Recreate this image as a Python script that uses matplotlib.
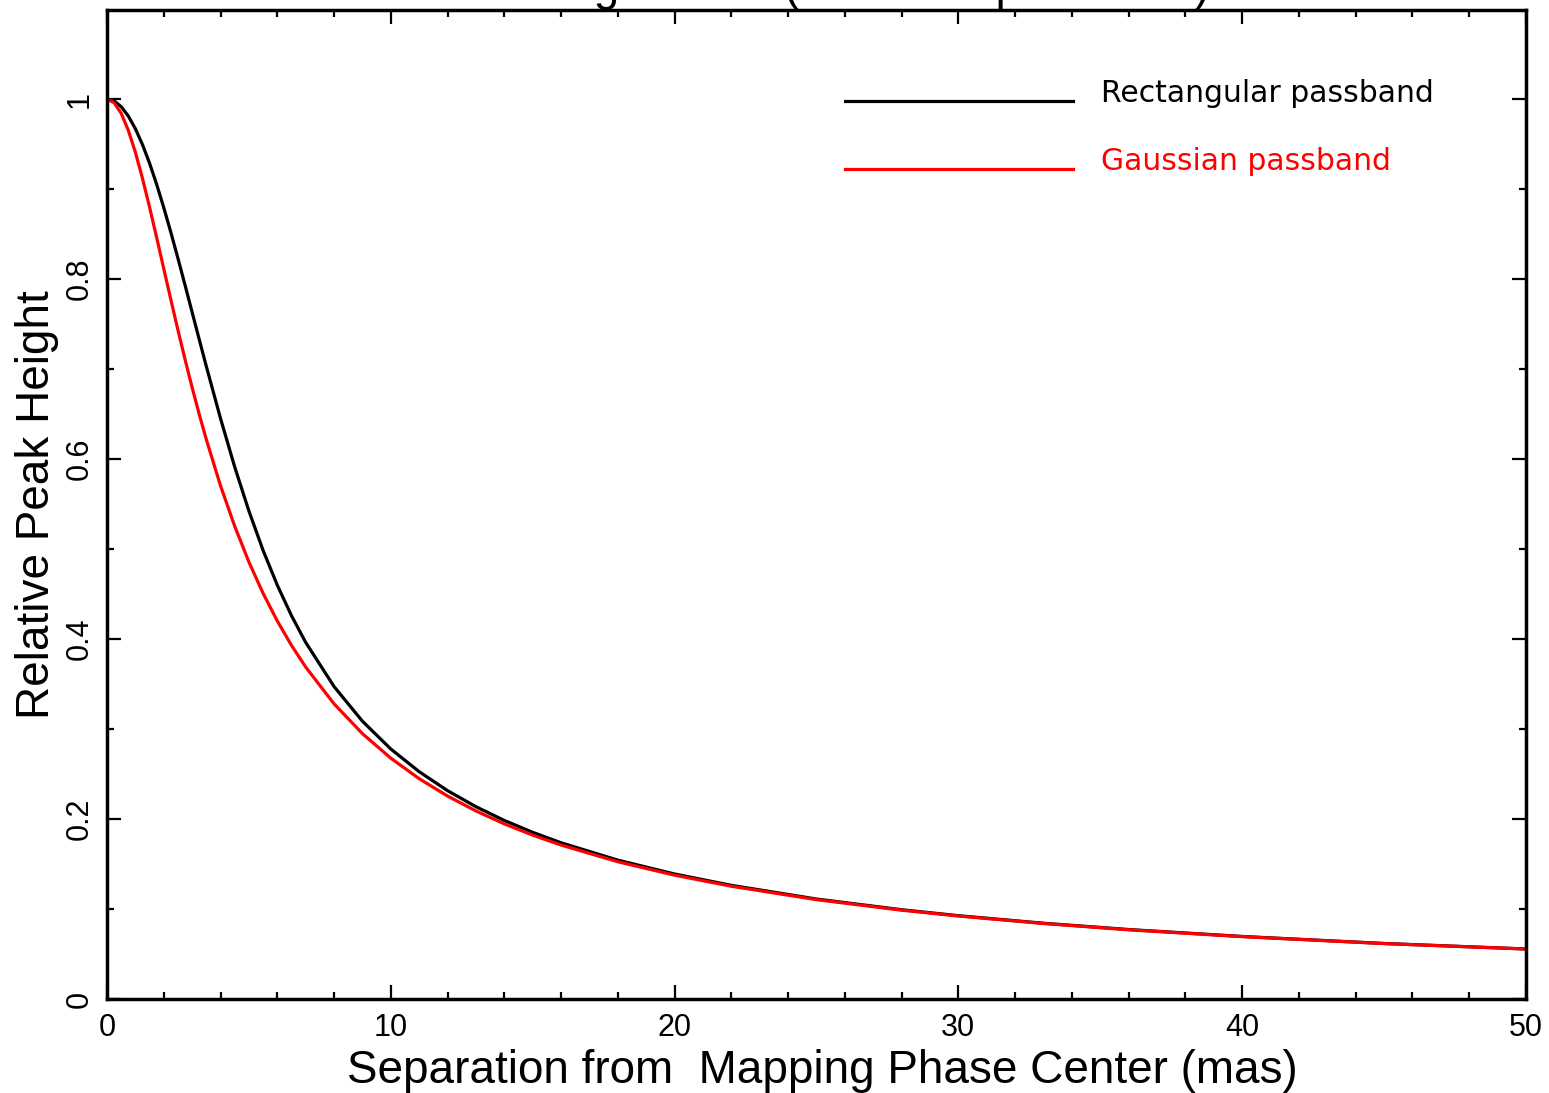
"""Relative peak height vs. separation from the mapping phase centre."""

import matplotlib

matplotlib.use("Agg")
import matplotlib.pyplot as plt
from matplotlib.legend_handler import HandlerLine2D
from matplotlib.lines import Line2D
from matplotlib.ticker import MultipleLocator

# separation from mapping phase centre (mas)
sep = [0, 0.25, 0.5, 0.75, 1, 1.25, 1.5, 1.75, 2, 2.25, 2.5, 2.75, 3, 3.25,
       3.5, 4, 4.5, 5, 5.5, 6, 6.5, 7, 8, 9, 10, 11, 12, 13, 14, 15, 16, 18,
       20, 22, 25, 28, 30, 33, 36, 40, 45, 50]

# relative peak height
rect_peak = [1.0, 0.9979, 0.9916, 0.9812, 0.9671, 0.9494, 0.9287, 0.9052,
             0.8794, 0.8519, 0.8230, 0.7933, 0.7631, 0.7329, 0.7030, 0.6451,
             0.5912, 0.5423, 0.4985, 0.4599, 0.4260, 0.3963, 0.3472, 0.3087,
             0.2778, 0.2526, 0.2315, 0.2137, 0.1984, 0.1852, 0.1736, 0.1543,
             0.1389, 0.1263, 0.1111, 0.0992, 0.0926, 0.0842, 0.0772, 0.0695,
             0.0617, 0.0556]
gauss_peak = [1.0, 0.9960, 0.9842, 0.9654, 0.9409, 0.9119, 0.8799, 0.8461,
              0.8115, 0.7771, 0.7433, 0.7107, 0.6794, 0.6497, 0.6217, 0.5704,
              0.5253, 0.4856, 0.4508, 0.4201, 0.3930, 0.3689, 0.3280, 0.2949,
              0.2676, 0.2448, 0.2255, 0.2090, 0.1946, 0.1821, 0.1711, 0.1525,
              0.1376, 0.1253, 0.1104, 0.0987, 0.0922, 0.0839, 0.0769, 0.0693,
              0.0616, 0.0555]

x_ticks = [0, 10, 20, 30, 40, 50]
y_ticks = [0, 0.2, 0.4, 0.6, 0.8, 1.0]
y_ticklabels = ["0", "0.2", "0.4", "0.6", "0.8", "1"]

# only the bottom of the title survives in the original, it sits off the top edge
title = "Smearing Effects (500 MHz passband)"


class LoweredLine(HandlerLine2D):
    """Legend key drawn a bit below the middle of its label."""

    def create_artists(self, legend, orig_handle, xdescent, ydescent,
                       width, height, fontsize, trans):
        artists = super().create_artists(legend, orig_handle, xdescent, ydescent,
                                         width, height, fontsize, trans)
        for a in artists:
            a.set_ydata([y - 0.3 * fontsize for y in a.get_ydata()])
        return artists


plt.rcParams["font.family"] = ["Liberation Sans", "DejaVu Sans"]

fig = plt.figure(figsize=(15.49, 10.93), dpi=100)
ax = fig.add_axes([107 / 1549, 94 / 1093, 1419 / 1549, 989 / 1093])

ax.plot(sep, rect_peak, color="black", lw=2.3, label="Rectangular passband")
ax.plot(sep, gauss_peak, color="red", lw=2.3, label="Gaussian passband")

ax.set_xlim(0, 50)
ax.set_ylim(0, 1.099)

ax.set_xticks(x_ticks)
ax.set_yticks(y_ticks)
ax.set_yticklabels(y_ticklabels)
ax.xaxis.set_minor_locator(MultipleLocator(2))
ax.yaxis.set_minor_locator(MultipleLocator(0.1))

ax.tick_params(which="both", direction="in", top=True, right=True, width=1.6)
ax.tick_params(which="major", length=10)
ax.tick_params(which="minor", length=5)
ax.tick_params(axis="x", labelsize=22, pad=10)
ax.tick_params(axis="y", labelsize=22, pad=9)
for lab in ax.get_yticklabels():
    lab.set_rotation(90)
    lab.set_va("center")

for sp in ax.spines.values():
    sp.set_linewidth(2.5)

ax.set_xlabel("Separation from  Mapping Phase Center (mas)", fontsize=33)
ax.set_ylabel("Relative Peak Height", fontsize=33)
ax.xaxis.set_label_coords(0.504, -0.051)
ax.yaxis.set_label_coords(-0.034, 0.5)

ax.set_title(title, fontsize=33, y=999 / 989, pad=0, va="baseline")

ax.legend(loc="upper left", bbox_to_anchor=(0.520, 0.930), frameon=False,
          handlelength=7.63, handletextpad=0.94, labelspacing=1.3,
          borderpad=0, borderaxespad=0, labelcolor="linecolor",
          handler_map={Line2D: LoweredLine()},
          prop={"family": "DejaVu Sans", "size": 21.5})

fig.savefig("out.png", dpi=100)
